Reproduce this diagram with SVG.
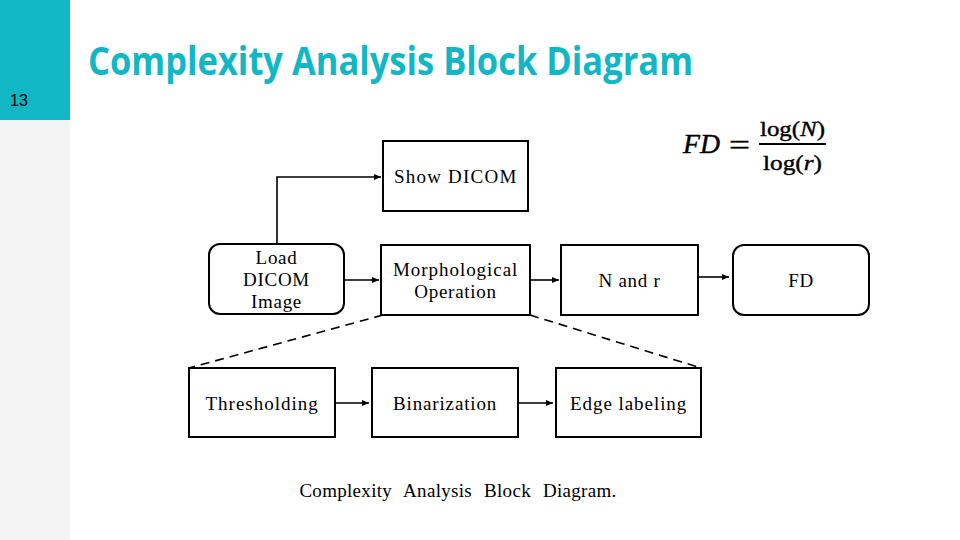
<svg xmlns="http://www.w3.org/2000/svg" width="960" height="540" viewBox="0 0 960 540">
<defs>
<marker id="ah" markerWidth="8" markerHeight="8" refX="7" refY="4" orient="auto" markerUnits="userSpaceOnUse">
<path d="M0,1 L7,4 L0,7 Z" fill="#000"/>
</marker>
<style>
.box{fill:#fff;stroke:#000;stroke-width:2}
.t{font-family:"Liberation Serif",serif;font-size:19px;letter-spacing:0.7px;fill:#000;text-anchor:middle}
.c{stroke:#000;stroke-width:1.6;fill:none}
.d{stroke:#000;stroke-width:1.6;fill:none;stroke-dasharray:9,6}
.m{font-family:"Liberation Serif",serif;fill:#000;stroke:#000;stroke-width:0.4}
</style>
</defs>
<rect width="960" height="540" fill="#fff"/>
<rect x="0" y="0" width="70" height="540" fill="#f3f3f3"/>
<rect x="0" y="0" width="70" height="120" fill="#12b7c5"/>
<text x="10" y="106" font-family="Liberation Sans,Arial,sans-serif" font-size="16" fill="#000">13</text>
<text x="88" y="75" font-family="Open Sans,Liberation Sans,sans-serif" font-weight="bold" font-size="40" fill="#12b7c5" textLength="605" lengthAdjust="spacingAndGlyphs">Complexity Analysis Block Diagram</text>

<g id="formula">
<text class="m" x="683" y="153" font-size="27" font-style="italic" textLength="37" lengthAdjust="spacingAndGlyphs">FD</text>
<text class="m" x="729" y="154" font-size="28" textLength="21" lengthAdjust="spacingAndGlyphs">=</text>
<line x1="759" y1="144" x2="826" y2="144" stroke="#000" stroke-width="2.2"/>
<text class="m" x="760" y="136" font-size="22" textLength="65" lengthAdjust="spacingAndGlyphs">log(<tspan font-style="italic">N</tspan>)</text>
<text class="m" x="763" y="170" font-size="22" textLength="59" lengthAdjust="spacingAndGlyphs">log(<tspan font-style="italic">r</tspan>)</text>
</g>

<g id="connectors">
<path class="c" d="M277,244 V177 H381" marker-end="url(#ah)"/>
<path class="c" d="M345,280 H379" marker-end="url(#ah)"/>
<path class="c" d="M531,280 H559" marker-end="url(#ah)"/>
<path class="c" d="M699,277 H729" marker-end="url(#ah)"/>
<path class="c" d="M336,403 H369" marker-end="url(#ah)"/>
<path class="c" d="M519,403 H553" marker-end="url(#ah)"/>
<path class="d" d="M383,315 L189,368"/>
<path class="d" d="M530,315 L701,368"/>
</g>

<g id="show-dicom">
<rect class="box" x="383" y="141" width="145" height="70"/>
<text class="t" x="455.5" y="183" textLength="123">Show DICOM</text>
</g>
<g id="load-dicom">
<rect class="box" x="209" y="244" width="135" height="70" rx="11"/>
<text class="t" x="276.5" y="264">Load</text>
<text class="t" x="276.5" y="286">DICOM</text>
<text class="t" x="276.5" y="308">Image</text>
</g>
<g id="morph">
<rect class="box" x="381" y="245" width="149" height="70"/>
<text class="t" x="455.5" y="276" textLength="125">Morphological</text>
<text class="t" x="455.5" y="298">Operation</text>
</g>
<g id="n-and-r">
<rect class="box" x="561" y="245" width="137" height="70"/>
<text class="t" x="629.5" y="287">N and r</text>
</g>
<g id="fd">
<rect class="box" x="733" y="245" width="136" height="70" rx="11"/>
<text class="t" x="801" y="287">FD</text>
</g>
<g id="thresholding">
<rect class="box" x="189" y="368" width="146" height="69"/>
<text class="t" x="262" y="410" textLength="113">Thresholding</text>
</g>
<g id="binarization">
<rect class="box" x="372" y="368" width="146" height="69"/>
<text class="t" x="445" y="410" textLength="104">Binarization</text>
</g>
<g id="edge">
<rect class="box" x="556" y="368" width="145" height="69"/>
<text class="t" x="628.5" y="410" textLength="117">Edge labeling</text>
</g>
<text class="t" x="458" y="497" style="letter-spacing:0.3px;word-spacing:7px">Complexity Analysis Block Diagram.</text>
</svg>
